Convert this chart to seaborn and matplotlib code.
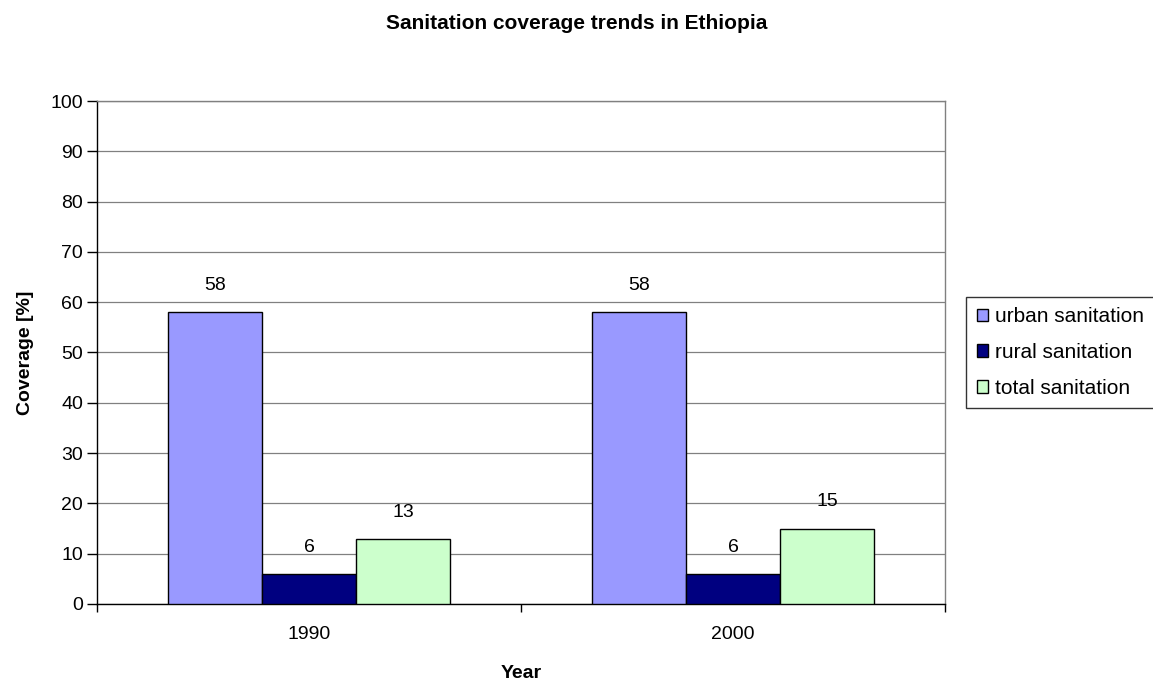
import pandas as pd
import matplotlib
matplotlib.use("Agg")
import matplotlib.pyplot as plt
import seaborn as sns
from matplotlib.ticker import FixedLocator, NullFormatter

years = ["1990", "2000"]
series = ["urban sanitation", "rural sanitation", "total sanitation"]
urban = [58, 58]
rural = [6, 6]
total = [13, 15]
colors = ["#9999FF", "#000080", "#CCFFCC"]

df = pd.DataFrame({
    "Year": years * 3,
    "series": [s for s in series for _ in years],
    "Coverage": urban + rural + total,
})

sns.set_theme(style="white", rc={"text.color": "black", "axes.labelcolor": "black",
                                 "xtick.color": "black", "ytick.color": "black"})
plt.rcParams["font.family"] = ["Liberation Sans", "DejaVu Sans"]

fs = 14

fig = plt.figure(figsize=(11.53, 6.84), dpi=100)
ax = fig.add_axes([0.0841, 0.117, 0.7355, 0.7353])

sns.barplot(data=df, x="Year", y="Coverage", hue="series", hue_order=series,
            palette=colors, width=0.667, edgecolor="black", linewidth=1.0,
            saturation=1, ax=ax, zorder=3)

for cont in ax.containers:
    ax.bar_label(cont, fmt="%g", padding=13, fontsize=fs)

ax.set_xlim(-0.5, 1.5)
ax.set_ylim(0, 100)
ax.set_yticks(range(0, 101, 10))
ax.yaxis.grid(True, color="#808080", linewidth=0.9, zorder=0)
ax.tick_params(axis="y", labelsize=fs, length=7, width=1, direction="out", left=True, pad=3)

# category boundaries as major ticks, labels at the centres
ax.xaxis.set_major_locator(FixedLocator([-0.5, 0.5, 1.5]))
ax.xaxis.set_major_formatter(NullFormatter())
ax.xaxis.set_minor_locator(FixedLocator([0, 1]))
ax.set_xticklabels(years, minor=True)
ax.tick_params(axis="x", which="major", length=6, width=1, direction="out", bottom=True)
ax.tick_params(axis="x", which="minor", length=0, labelsize=fs, pad=16)

for side in ["top", "right"]:
    ax.spines[side].set_color("#808080")
    ax.spines[side].set_linewidth(1.0)
for side in ["left", "bottom"]:
    ax.spines[side].set_color("black")
    ax.spines[side].set_linewidth(1.0)

ax.set_xlabel("Year", fontsize=fs, fontweight="bold", labelpad=16)
ax.set_ylabel("Coverage [%]", fontsize=fs, fontweight="bold", labelpad=12)
fig.suptitle("Sanitation coverage trends in Ethiopia", fontsize=15, fontweight="bold",
             y=0.965, va="center")

leg = ax.legend(loc="center left", bbox_to_anchor=(1.025, 0.5), fontsize=15,
                frameon=True, fancybox=False, edgecolor="black", handlelength=0.55,
                handleheight=0.55, handletextpad=0.35, labelspacing=0.8, borderpad=0.5,
                borderaxespad=0)
leg.get_frame().set_linewidth(1.0)
for h in leg.legend_handles:
    h.set_edgecolor("black")

fig.savefig("out.png", dpi=100)
